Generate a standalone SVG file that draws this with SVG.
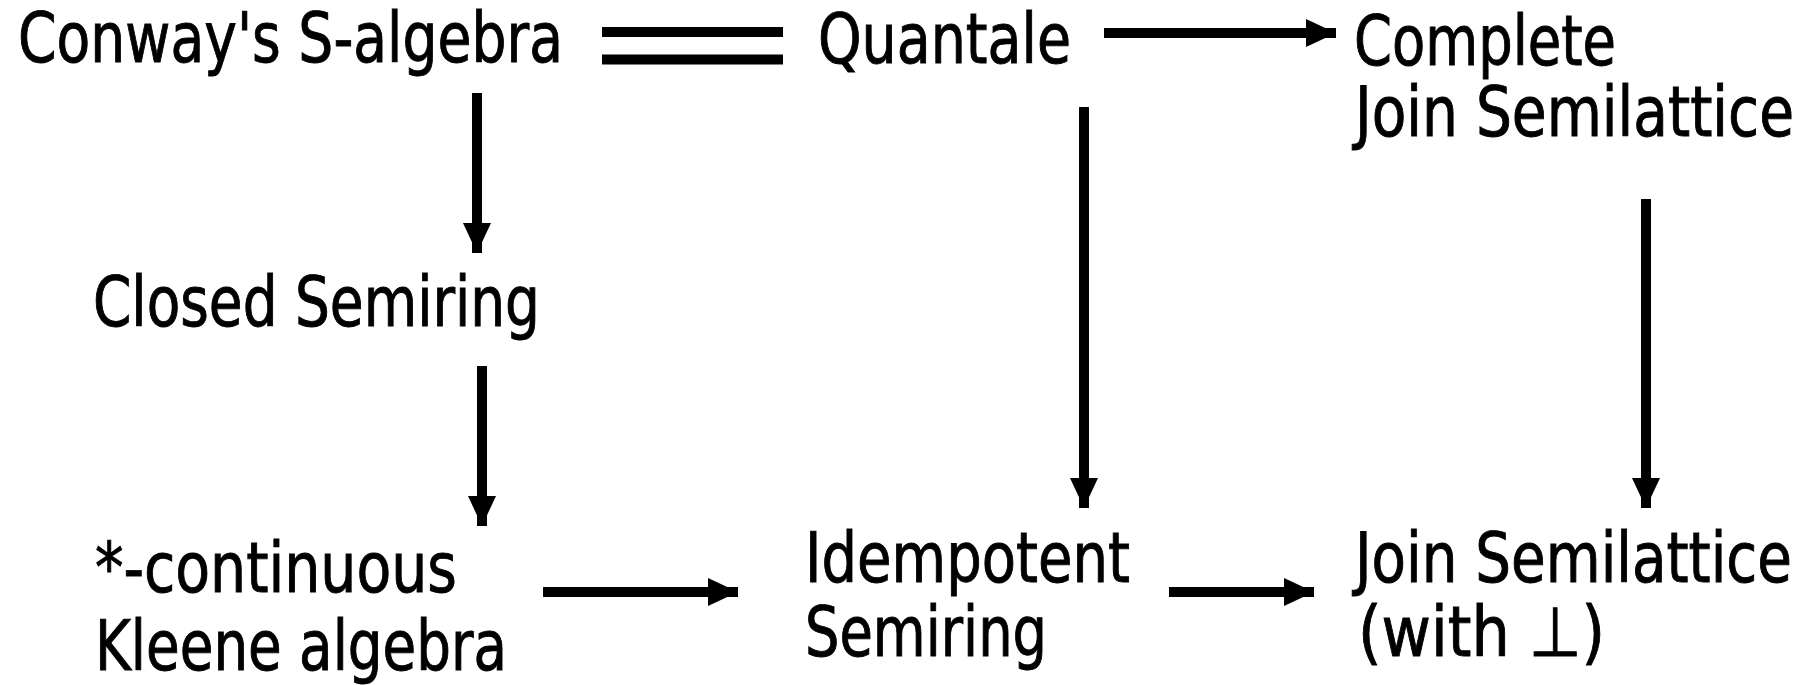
<svg xmlns="http://www.w3.org/2000/svg" width="1812" height="685" viewBox="0 0 1812 685">
<style>
text{font-family:"DejaVu Sans Condensed","DejaVu Sans","Liberation Sans",sans-serif;font-size:69px;fill:#000;stroke:#000;stroke-width:0.9}
.ln{stroke:#000;stroke-width:10;fill:none}
</style>
<defs>
<marker id="ah" markerUnits="userSpaceOnUse" markerWidth="32" markerHeight="30" refX="30" refY="14" orient="auto">
<path d="M0,0 L30,14 L0,28 Z" fill="#000"/>
</marker>
</defs>
<rect width="1812" height="685" fill="#fff"/>
<g id="conway"><text x="18" y="62" textLength="545" lengthAdjust="spacingAndGlyphs">Conway's S-algebra</text></g>
<g id="quantale"><text x="818" y="63" textLength="253" lengthAdjust="spacingAndGlyphs">Quantale</text></g>
<g id="cjsl"><text x="1354" y="65" textLength="262" lengthAdjust="spacingAndGlyphs">Complete</text><text x="1355" y="136" textLength="439" lengthAdjust="spacingAndGlyphs">Join Semilattice</text></g>
<g id="closed"><text x="93" y="326" textLength="447" lengthAdjust="spacingAndGlyphs">Closed Semiring</text></g>
<g id="kleene"><text x="95" y="592" textLength="362" lengthAdjust="spacingAndGlyphs">*-continuous</text><text x="95" y="670" textLength="412" lengthAdjust="spacingAndGlyphs">Kleene algebra</text></g>
<g id="idem"><text x="805" y="582" textLength="325" lengthAdjust="spacingAndGlyphs">Idempotent</text><text x="805" y="656" textLength="242" lengthAdjust="spacingAndGlyphs">Semiring</text></g>
<g id="jsl"><text x="1355" y="582" textLength="437" lengthAdjust="spacingAndGlyphs">Join Semilattice</text><text x="1358" y="656" textLength="247" lengthAdjust="spacingAndGlyphs">(with ⊥)</text></g>
<g id="connectors">
<line class="ln" x1="602" y1="32" x2="783" y2="32"/>
<line class="ln" x1="602" y1="59.5" x2="783" y2="59.5"/>
<line class="ln" x1="1104" y1="33" x2="1336" y2="33" marker-end="url(#ah)"/>
<line class="ln" x1="477" y1="93" x2="477" y2="253" marker-end="url(#ah)"/>
<line class="ln" x1="482" y1="366" x2="482" y2="526" marker-end="url(#ah)"/>
<line class="ln" x1="1084" y1="107" x2="1084" y2="508" marker-end="url(#ah)"/>
<line class="ln" x1="1646" y1="199" x2="1646" y2="508" marker-end="url(#ah)"/>
<line class="ln" x1="543" y1="592" x2="738" y2="592" marker-end="url(#ah)"/>
<line class="ln" x1="1169" y1="592" x2="1314" y2="592" marker-end="url(#ah)"/>
</g>
</svg>
